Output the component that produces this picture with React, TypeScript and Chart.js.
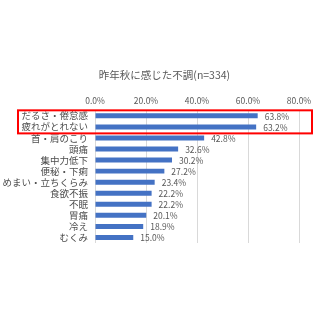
import React, { useEffect, useRef } from "react";
import { Chart, registerables } from "chart.js";

Chart.register(...registerables);

const titleText = "昨年秋に感じた不調(n=334)";
const categories = [
  "だるさ・倦怠感",
  "疲れがとれない",
  "首・肩のこり",
  "頭痛",
  "集中力低下",
  "便秘・下痢",
  "めまい・立ちくらみ",
  "食欲不振",
  "不眠",
  "胃痛",
  "冷え",
  "むくみ",
];
const values = [63.8, 63.2, 42.8, 32.6, 30.2, 27.2, 23.4, 22.2, 22.2, 20.1, 18.9, 15.0];
const xTicks = [0, 20, 40, 60, 80];
const highlighted = [0, 1];

const FONT = "'Noto Sans CJK JP', 'Noto Sans', sans-serif";

const labelPlugin = {
  id: "valueLabels",
  afterDatasetsDraw(chart: any) {
    const ctx = chart.ctx;
    const meta = chart.getDatasetMeta(0);
    ctx.save();
    ctx.font = `8.5px ${FONT}`;
    ctx.fillStyle = "#595959";
    ctx.textAlign = "left";
    ctx.textBaseline = "middle";
    meta.data.forEach((bar: any, i: number) => {
      ctx.fillText(values[i].toFixed(1) + "%", bar.x + 7, bar.y + 0.5);
    });
    ctx.restore();
  },
};

const boxPlugin = {
  id: "highlightBox",
  afterDraw(chart: any) {
    const ctx = chart.ctx;
    const y = chart.scales.y;
    const area = chart.chartArea;
    const first = y.getPixelForValue(highlighted[0]);
    const last = y.getPixelForValue(highlighted[highlighted.length - 1]);
    const left = area.left - 77;
    const right = area.right + 13;
    const top = first - 5.5;
    const bottom = last + 6.5;
    ctx.save();
    ctx.strokeStyle = "#FF0000";
    ctx.lineWidth = 2;
    ctx.strokeRect(left, top, right - left, bottom - top);
    ctx.restore();
  },
};

// centre the title over the area used by the whole figure (label column + plot)
const titlePlacePlugin = {
  id: "titlePlace",
  afterLayout(chart: any) {
    const t = chart.titleBlock;
    if (t) {
      t.left = 30;
      t.right = chart.chartArea.right;
    }
  },
};

export default function App() {
  const ref = useRef<HTMLCanvasElement | null>(null);
  useEffect(() => {
    if (!ref.current) return;
    const chart = new Chart(ref.current, {
      type: "bar",
      data: {
        labels: categories,
        datasets: [
          {
            data: values,
            backgroundColor: "#4472C4",
            borderWidth: 0,
            categoryPercentage: 1,
            barPercentage: 0.45,
          },
        ],
      },
      options: {
        indexAxis: "y",
        animation: false,
        responsive: false,
        maintainAspectRatio: false,
        layout: { padding: { left: 0, right: 21, top: 0, bottom: 77 } },
        plugins: {
          legend: { display: false },
          tooltip: { enabled: false },
          title: {
            display: true,
            text: titleText,
            color: "#595959",
            font: { family: FONT, size: 10.5, weight: "normal" },
            padding: { top: 68.7, bottom: 0 },
          },
        },
        scales: {
          x: {
            position: "top",
            min: 0,
            max: 80,
            afterBuildTicks(scale: any) {
              scale.ticks = xTicks.map((v) => ({ value: v }));
            },
            afterFit(scale: any) {
              scale.height = 29;
            },
            grid: { color: "#D9D9D9", drawTicks: false, lineWidth: 1 },
            border: { display: false },
            ticks: {
              color: "#595959",
              font: { family: FONT, size: 8.5 },
              padding: 4,
              callback: (v: any) => Number(v).toFixed(1) + "%",
            },
          },
          y: {
            afterFit(scale: any) {
              scale.width = 95;
            },
            grid: { display: false, drawTicks: false },
            border: { display: false },
            ticks: {
              color: "#4D4D4D",
              font: { family: FONT, size: 9.5 },
              padding: 7,
              autoSkip: false,
            },
          },
        },
      },
      plugins: [labelPlugin, boxPlugin, titlePlacePlugin],
    });
    return () => chart.destroy();
  }, []);
  return (
    <div style={{ position: "fixed", left: 0, top: 0, width: 320, height: 320, background: "#fff" }}>
      <canvas ref={ref} width={320} height={320} style={{ width: 320, height: 320 }} />
    </div>
  );
}
